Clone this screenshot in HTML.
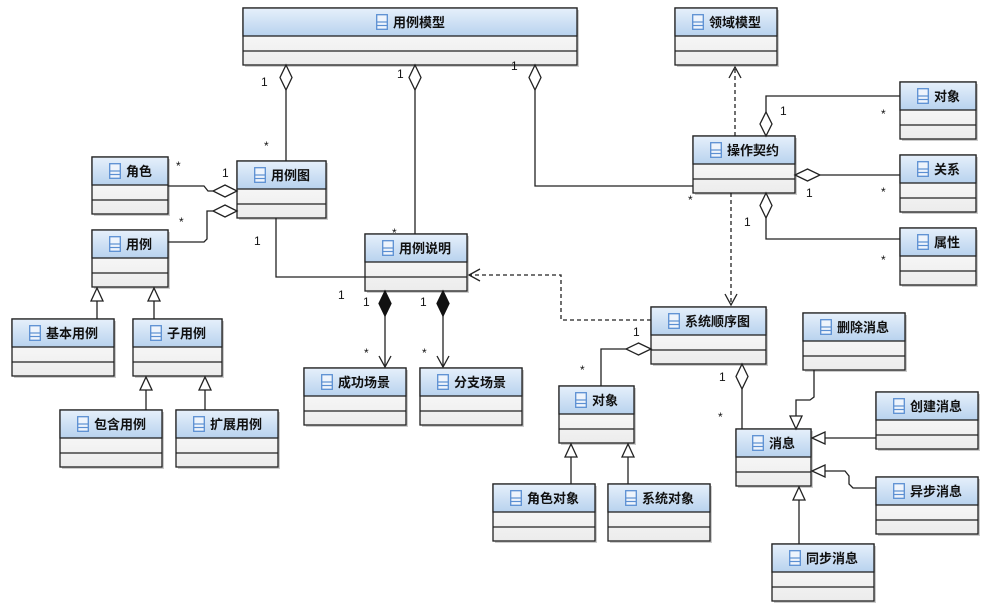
<!DOCTYPE html>
<html><head><meta charset="utf-8"><style>
html,body{margin:0;padding:0;background:#fff;}
svg{display:block;}
text{font-family:"Liberation Sans","Noto Sans CJK SC",sans-serif;}
.t{font-size:13px;font-weight:bold;fill:#111;}
.m{font-size:12px;fill:#111;}
.l{fill:none;stroke:#222;stroke-width:1.3;}
.d{fill:none;stroke:#222;stroke-width:1.3;stroke-dasharray:4,3;}
.dm{fill:#fff;stroke:#222;stroke-width:1.3;}
.fd{fill:#111;stroke:#111;stroke-width:1.3;}
</style></head><body>
<svg width="987" height="610" viewBox="0 0 987 610" xmlns="http://www.w3.org/2000/svg">
<defs>
<linearGradient id="hd" x1="0" y1="0" x2="0" y2="1"><stop offset="0" stop-color="#e6f0fb"/><stop offset="1" stop-color="#b8d2ee"/></linearGradient>
<linearGradient id="bd" x1="0" y1="0" x2="0" y2="1"><stop offset="0" stop-color="#ffffff"/><stop offset="1" stop-color="#ececec"/></linearGradient>
<symbol id="ic" viewBox="0 0 12 16" width="12" height="16"><rect x="0.7" y="0.7" width="10.6" height="14.6" fill="#eef4fc" stroke="#5b8fd2" stroke-width="1.3"/><line x1="1" y1="8" x2="11" y2="8" stroke="#5b8fd2" stroke-width="1.2"/><line x1="1" y1="11.5" x2="11" y2="11.5" stroke="#5b8fd2" stroke-width="1.2"/></symbol>
</defs>

<!-- boxes -->
<g stroke="#222" stroke-width="1.3">
<!-- template: shadow, body, header, divider -->
<rect x="245" y="10" width="334" height="57" fill="#ccc" stroke="none"/><rect x="243" y="8" width="334" height="57" fill="url(#bd)"/><rect x="243" y="8" width="334" height="28" fill="url(#hd)"/><line x1="243" y1="51" x2="577" y2="51"/>
<rect x="677" y="10" width="102" height="57" fill="#ccc" stroke="none"/><rect x="675" y="8" width="102" height="57" fill="url(#bd)"/><rect x="675" y="8" width="102" height="28" fill="url(#hd)"/><line x1="675" y1="51" x2="777" y2="51"/>
<rect x="902" y="84" width="76" height="57" fill="#ccc" stroke="none"/><rect x="900" y="82" width="76" height="57" fill="url(#bd)"/><rect x="900" y="82" width="76" height="28" fill="url(#hd)"/><line x1="900" y1="125" x2="976" y2="125"/>
<rect x="695" y="138" width="102" height="57" fill="#ccc" stroke="none"/><rect x="693" y="136" width="102" height="57" fill="url(#bd)"/><rect x="693" y="136" width="102" height="28" fill="url(#hd)"/><line x1="693" y1="179" x2="795" y2="179"/>
<rect x="902" y="157" width="76" height="57" fill="#ccc" stroke="none"/><rect x="900" y="155" width="76" height="57" fill="url(#bd)"/><rect x="900" y="155" width="76" height="28" fill="url(#hd)"/><line x1="900" y1="198" x2="976" y2="198"/>
<rect x="902" y="230" width="76" height="57" fill="#ccc" stroke="none"/><rect x="900" y="228" width="76" height="57" fill="url(#bd)"/><rect x="900" y="228" width="76" height="28" fill="url(#hd)"/><line x1="900" y1="271" x2="976" y2="271"/>
<rect x="94" y="159" width="76" height="57" fill="#ccc" stroke="none"/><rect x="92" y="157" width="76" height="57" fill="url(#bd)"/><rect x="92" y="157" width="76" height="28" fill="url(#hd)"/><line x1="92" y1="200" x2="168" y2="200"/>
<rect x="239" y="163" width="89" height="57" fill="#ccc" stroke="none"/><rect x="237" y="161" width="89" height="57" fill="url(#bd)"/><rect x="237" y="161" width="89" height="28" fill="url(#hd)"/><line x1="237" y1="204" x2="326" y2="204"/>
<rect x="94" y="232" width="76" height="57" fill="#ccc" stroke="none"/><rect x="92" y="230" width="76" height="57" fill="url(#bd)"/><rect x="92" y="230" width="76" height="28" fill="url(#hd)"/><line x1="92" y1="273" x2="168" y2="273"/>
<rect x="367" y="236" width="102" height="57" fill="#ccc" stroke="none"/><rect x="365" y="234" width="102" height="57" fill="url(#bd)"/><rect x="365" y="234" width="102" height="28" fill="url(#hd)"/><line x1="365" y1="277" x2="467" y2="277"/>
<rect x="14" y="321" width="102" height="57" fill="#ccc" stroke="none"/><rect x="12" y="319" width="102" height="57" fill="url(#bd)"/><rect x="12" y="319" width="102" height="28" fill="url(#hd)"/><line x1="12" y1="362" x2="114" y2="362"/>
<rect x="135" y="321" width="89" height="57" fill="#ccc" stroke="none"/><rect x="133" y="319" width="89" height="57" fill="url(#bd)"/><rect x="133" y="319" width="89" height="28" fill="url(#hd)"/><line x1="133" y1="362" x2="222" y2="362"/>
<rect x="653" y="309" width="115" height="57" fill="#ccc" stroke="none"/><rect x="651" y="307" width="115" height="57" fill="url(#bd)"/><rect x="651" y="307" width="115" height="28" fill="url(#hd)"/><line x1="651" y1="350" x2="766" y2="350"/>
<rect x="805" y="315" width="102" height="57" fill="#ccc" stroke="none"/><rect x="803" y="313" width="102" height="57" fill="url(#bd)"/><rect x="803" y="313" width="102" height="28" fill="url(#hd)"/><line x1="803" y1="356" x2="905" y2="356"/>
<rect x="306" y="370" width="102" height="57" fill="#ccc" stroke="none"/><rect x="304" y="368" width="102" height="57" fill="url(#bd)"/><rect x="304" y="368" width="102" height="28" fill="url(#hd)"/><line x1="304" y1="411" x2="406" y2="411"/>
<rect x="422" y="370" width="102" height="57" fill="#ccc" stroke="none"/><rect x="420" y="368" width="102" height="57" fill="url(#bd)"/><rect x="420" y="368" width="102" height="28" fill="url(#hd)"/><line x1="420" y1="411" x2="522" y2="411"/>
<rect x="561" y="388" width="75" height="57" fill="#ccc" stroke="none"/><rect x="559" y="386" width="75" height="57" fill="url(#bd)"/><rect x="559" y="386" width="75" height="28" fill="url(#hd)"/><line x1="559" y1="429" x2="634" y2="429"/>
<rect x="878" y="394" width="102" height="57" fill="#ccc" stroke="none"/><rect x="876" y="392" width="102" height="57" fill="url(#bd)"/><rect x="876" y="392" width="102" height="28" fill="url(#hd)"/><line x1="876" y1="435" x2="978" y2="435"/>
<rect x="62" y="412" width="102" height="57" fill="#ccc" stroke="none"/><rect x="60" y="410" width="102" height="57" fill="url(#bd)"/><rect x="60" y="410" width="102" height="28" fill="url(#hd)"/><line x1="60" y1="453" x2="162" y2="453"/>
<rect x="178" y="412" width="102" height="57" fill="#ccc" stroke="none"/><rect x="176" y="410" width="102" height="57" fill="url(#bd)"/><rect x="176" y="410" width="102" height="28" fill="url(#hd)"/><line x1="176" y1="453" x2="278" y2="453"/>
<rect x="738" y="431" width="75" height="57" fill="#ccc" stroke="none"/><rect x="736" y="429" width="75" height="57" fill="url(#bd)"/><rect x="736" y="429" width="75" height="28" fill="url(#hd)"/><line x1="736" y1="472" x2="811" y2="472"/>
<rect x="878" y="479" width="102" height="57" fill="#ccc" stroke="none"/><rect x="876" y="477" width="102" height="57" fill="url(#bd)"/><rect x="876" y="477" width="102" height="28" fill="url(#hd)"/><line x1="876" y1="520" x2="978" y2="520"/>
<rect x="495" y="486" width="102" height="57" fill="#ccc" stroke="none"/><rect x="493" y="484" width="102" height="57" fill="url(#bd)"/><rect x="493" y="484" width="102" height="28" fill="url(#hd)"/><line x1="493" y1="527" x2="595" y2="527"/>
<rect x="610" y="486" width="102" height="57" fill="#ccc" stroke="none"/><rect x="608" y="484" width="102" height="57" fill="url(#bd)"/><rect x="608" y="484" width="102" height="28" fill="url(#hd)"/><line x1="608" y1="527" x2="710" y2="527"/>
<rect x="774" y="546" width="102" height="57" fill="#ccc" stroke="none"/><rect x="772" y="544" width="102" height="57" fill="url(#bd)"/><rect x="772" y="544" width="102" height="28" fill="url(#hd)"/><line x1="772" y1="587" x2="874" y2="587"/>
</g>

<!-- icons -->
<use href="#ic" x="376" y="14"/><use href="#ic" x="692" y="14"/><use href="#ic" x="917" y="88"/><use href="#ic" x="710" y="142"/>
<use href="#ic" x="917" y="161"/><use href="#ic" x="917" y="234"/><use href="#ic" x="109" y="163"/><use href="#ic" x="254" y="167"/>
<use href="#ic" x="109" y="236"/><use href="#ic" x="382" y="240"/><use href="#ic" x="29" y="325"/><use href="#ic" x="150" y="325"/>
<use href="#ic" x="668" y="313"/><use href="#ic" x="820" y="319"/><use href="#ic" x="321" y="374"/><use href="#ic" x="437" y="374"/>
<use href="#ic" x="575" y="392"/><use href="#ic" x="893" y="398"/><use href="#ic" x="77" y="416"/><use href="#ic" x="193" y="416"/>
<use href="#ic" x="752" y="435"/><use href="#ic" x="893" y="483"/><use href="#ic" x="510" y="490"/><use href="#ic" x="625" y="490"/>
<use href="#ic" x="789" y="550"/>

<!-- titles -->
<text class="t" x="393" y="27">用例模型</text>
<text class="t" x="709" y="27">领域模型</text>
<text class="t" x="934" y="101">对象</text>
<text class="t" x="727" y="155">操作契约</text>
<text class="t" x="934" y="174">关系</text>
<text class="t" x="934" y="247">属性</text>
<text class="t" x="126" y="176">角色</text>
<text class="t" x="271" y="180">用例图</text>
<text class="t" x="126" y="249">用例</text>
<text class="t" x="399" y="253">用例说明</text>
<text class="t" x="46" y="338">基本用例</text>
<text class="t" x="167" y="338">子用例</text>
<text class="t" x="685" y="326">系统顺序图</text>
<text class="t" x="837" y="332">删除消息</text>
<text class="t" x="338" y="387">成功场景</text>
<text class="t" x="454" y="387">分支场景</text>
<text class="t" x="592" y="405">对象</text>
<text class="t" x="910" y="411">创建消息</text>
<text class="t" x="94" y="429">包含用例</text>
<text class="t" x="210" y="429">扩展用例</text>
<text class="t" x="769" y="448">消息</text>
<text class="t" x="910" y="496">异步消息</text>
<text class="t" x="527" y="503">角色对象</text>
<text class="t" x="642" y="503">系统对象</text>
<text class="t" x="806" y="563">同步消息</text>

<!-- connectors -->
<polyline class="l" points="286,90 286,161"/>
<polygon class="dm" points="286,65 292,77.5 286,90 280,77.5"/>
<polyline class="l" points="415,90 415,234"/>
<polygon class="dm" points="415,65 421,77.5 415,90 409,77.5"/>
<polyline class="l" points="535,90 535,186 693,186"/>
<polygon class="dm" points="535,65 541,77.5 535,90 529,77.5"/>

<polyline class="d" points="735,136 735,67"/>
<polyline class="l" points="729,78 735,67 741,78"/>
<polyline class="d" points="731,193 731,305"/>
<polyline class="l" points="725,294 731,305 737,294"/>

<polyline class="l" points="766,112 766,96 900,96"/>
<polygon class="dm" points="766,136 772,124 766,112 760,124"/>
<polyline class="l" points="820,175 900,175"/>
<polygon class="dm" points="795,175 807.5,169 820,175 807.5,181"/>
<polyline class="l" points="766,218 766,239 900,239"/>
<polygon class="dm" points="766,193 772,205.5 766,218 760,205.5"/>

<polyline class="d" points="651,320 561,320 561,275 469,275"/>
<polyline class="l" points="480,269 469,275 480,281"/>

<polyline class="l" points="168,186 204,186 208,191 213,191"/>
<polygon class="dm" points="237,191 225,185 213,191 225,197"/>
<polyline class="l" points="168,242 204,242 207,239 207,211 213,211"/>
<polygon class="dm" points="237,211 225,205 213,211 225,217"/>

<polyline class="l" points="276,218 276,277 365,277"/>

<polyline class="l" points="385,316 385,367"/>
<polygon class="fd" points="385,291 391,303.5 385,316 379,303.5"/>
<polyline class="l" points="379,356 385,367 391,356"/>
<polyline class="l" points="443,316 443,367"/>
<polygon class="fd" points="443,291 449,303.5 443,316 437,303.5"/>
<polyline class="l" points="437,356 443,367 449,356"/>

<polyline class="l" points="97,301 97,319"/><polygon class="dm" points="97,288 103,301 91,301"/>
<polyline class="l" points="154,301 154,319"/><polygon class="dm" points="154,288 160,301 148,301"/>
<polyline class="l" points="146,390 146,410"/><polygon class="dm" points="146,377 152,390 140,390"/>
<polyline class="l" points="205,390 205,410"/><polygon class="dm" points="205,377 211,390 199,390"/>

<polyline class="l" points="626,349 601,349 601,386"/>
<polygon class="dm" points="651,349 638.5,343 626,349 638.5,355"/>
<polyline class="l" points="742,389 742,429"/>
<polygon class="dm" points="742,364 748,376.5 742,389 736,376.5"/>

<polyline class="l" points="571,457 571,484"/><polygon class="dm" points="571,444 577,457 565,457"/>
<polyline class="l" points="628,457 628,484"/><polygon class="dm" points="628,444 634,457 622,457"/>

<polyline class="l" points="814,370 814,397 810,400 796,400 796,416"/><polygon class="dm" points="796,429 802,416 790,416"/>
<polyline class="l" points="825,438 876,438"/><polygon class="dm" points="812,438 825,432 825,444"/>
<polyline class="l" points="825,471 845,471 849,476 849,484 853,488 876,488"/><polygon class="dm" points="812,471 825,465 825,477"/>
<polyline class="l" points="799,500 799,544"/><polygon class="dm" points="799,487 805,500 793,500"/>

<!-- multiplicities -->
<text class="m" x="261" y="86">1</text><text class="m" x="264" y="150">*</text>
<text class="m" x="397" y="78">1</text><text class="m" x="392" y="237">*</text>
<text class="m" x="511" y="70">1</text><text class="m" x="688" y="204">*</text>
<text class="m" x="780" y="115">1</text><text class="m" x="881" y="118">*</text>
<text class="m" x="806" y="197">1</text><text class="m" x="881" y="196">*</text>
<text class="m" x="744" y="226">1</text><text class="m" x="881" y="264">*</text>
<text class="m" x="176" y="170">*</text><text class="m" x="222" y="177">1</text>
<text class="m" x="179" y="226">*</text><text class="m" x="254" y="245">1</text>
<text class="m" x="338" y="299">1</text>
<text class="m" x="363" y="306">1</text><text class="m" x="364" y="357">*</text>
<text class="m" x="420" y="306">1</text><text class="m" x="422" y="357">*</text>
<text class="m" x="633" y="336">1</text><text class="m" x="580" y="374">*</text>
<text class="m" x="719" y="381">1</text><text class="m" x="718" y="421">*</text>
</svg>
</body></html>
